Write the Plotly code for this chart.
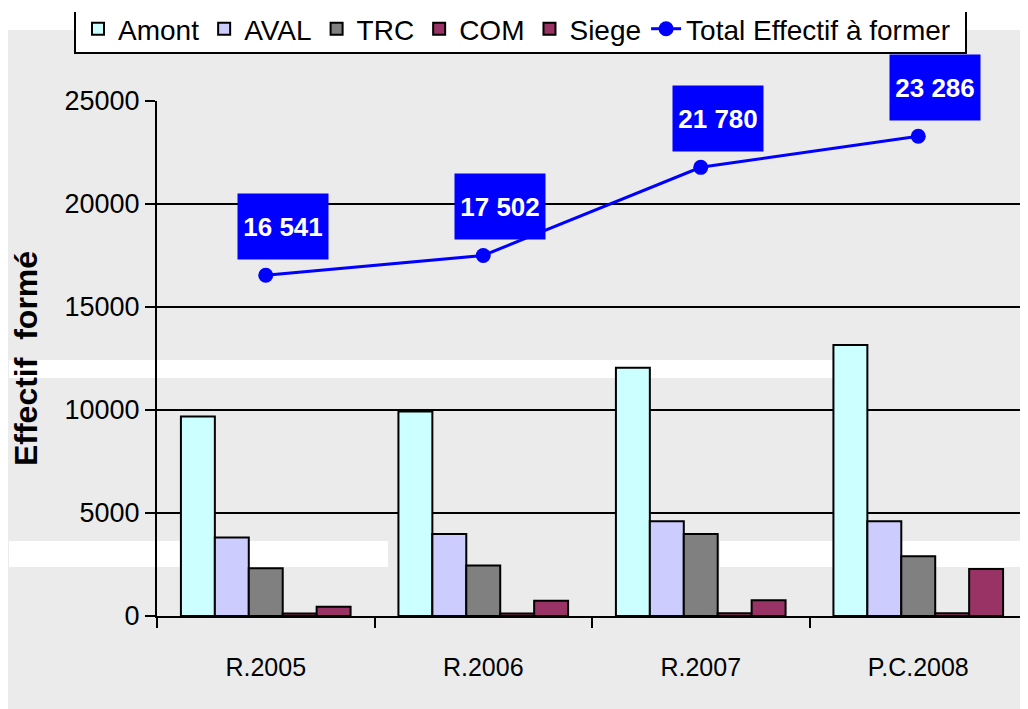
import plotly.graph_objects as go

categories = ["R.2005", "R.2006", "R.2007", "P.C.2008"]
amont = [9680, 9930, 12050, 13150]
aval = [3810, 3975, 4600, 4600]
trc = [2315, 2450, 3980, 2905]
com = [120, 120, 130, 130]
siege = [445, 740, 770, 2285]
total = [16541, 17502, 21780, 23286]

# the page body adds an 8px margin, so the figure is 8px smaller
OFF = 8
W, H = 1028 - OFF, 709 - OFF
L, R, T, B = 157 - OFF, 1, 101 - OFF, 93
PW, PH = W - L - R, H - T - B

def px(x):
    return (x - OFF - L) / PW

def py(y):
    return (H - B - (y - OFF)) / PH

FONT = "Liberation Sans, Arial, sans-serif"

fig = go.Figure()
bar_series = [
    ("Amont", amont, "#CCFFFF"),
    ("AVAL", aval, "#CCCCFF"),
    ("TRC", trc, "#808080"),
    ("COM", com, "#993366"),
    ("Siege", siege, "#993366"),
]
for name, vals, col in bar_series:
    fig.add_trace(go.Bar(
        name=name, x=categories, y=vals,
        marker=dict(color=col, line=dict(color="#000000", width=2)),
    ))

fig.add_trace(go.Scatter(
    name="Total Effectif à former", x=categories, y=total,
    mode="lines+markers",
    line=dict(color="#0000FF", width=3),
    marker=dict(color="#0000FF", size=15, symbol="circle"),
))

for c, v in zip(categories, total):
    fig.add_annotation(
        x=c, y=v, text="<b>" + f"{v:,}".replace(",", " ") + "</b>",
        showarrow=False, xshift=17, yshift=49,
        width=88, height=63, bgcolor="#0000FF",
        font=dict(family=FONT, size=26, color="#FFFFFF"),
        align="center", valign="middle",
    )

shapes = [
    # white top strip of the scanned page
    dict(type="rect", xref="paper", yref="paper", x0=px(0), x1=px(1028), y0=py(30), y1=py(0),
         fillcolor="#FFFFFF", line=dict(width=0), layer="below"),
    # light scan bands
    dict(type="rect", xref="paper", yref="paper", x0=px(9), x1=px(846), y0=py(378), y1=py(360),
         fillcolor="#FFFFFF", line=dict(width=0), layer="below"),
    dict(type="rect", xref="paper", yref="paper", x0=px(9), x1=px(388), y0=py(567), y1=py(541),
         fillcolor="#FFFFFF", line=dict(width=0), layer="below"),
    dict(type="rect", xref="paper", yref="paper", x0=px(720), x1=px(1028), y0=py(567), y1=py(541),
         fillcolor="#FFFFFF", line=dict(width=0), layer="below"),
    # legend box
    dict(type="rect", xref="paper", yref="paper", x0=px(75), x1=px(966), y0=py(53), y1=py(0),
         fillcolor="#FFFFFF", line=dict(width=0), layer="below"),
    dict(type="path", xref="paper", yref="paper",
         path=f"M {px(75)},{py(12)} L {px(75)},{py(53)} L {px(966)},{py(53)} L {px(966)},{py(12)}",
         line=dict(color="#000000", width=2), layer="above"),
]

fig.update_layout(
    width=W, height=H,
    margin=dict(l=L, r=R, t=T, b=B, pad=0, autoexpand=False),
    paper_bgcolor="#EBEBEB",
    plot_bgcolor="rgba(0,0,0,0)",
    barmode="group", bargap=0.22, bargroupgap=0,
    font=dict(family=FONT, size=24, color="#000000"),
    showlegend=True,
    legend=dict(
        orientation="h", x=px(78), y=py(29), xanchor="left", yanchor="middle",
        bgcolor="rgba(0,0,0,0)", borderwidth=0,
        font=dict(family=FONT, size=28, color="#000000"),
        itemwidth=30, tracegroupgap=0,
    ),
    shapes=shapes,
    xaxis=dict(
        type="category", range=[-0.5, 3.5],
        showline=True, linecolor="#000000", linewidth=2,
        ticks="outside", tickson="boundaries", ticklen=10, tickwidth=2, tickcolor="#000000",
        showgrid=False, ticklabelstandoff=28,
        tickfont=dict(family=FONT, size=25, color="#000000"),
    ),
    yaxis=dict(
        range=[0, 25000], dtick=5000, tickformat="d",
        showline=True, linecolor="#000000", linewidth=2,
        ticks="outside", ticklen=10, tickwidth=2, tickcolor="#000000",
        showgrid=True, gridcolor="#000000", gridwidth=2,
        zeroline=False,
        tickfont=dict(family=FONT, size=27, color="#000000"),
        title=dict(text="<b>Effectif  formé</b>", standoff=20,
                   font=dict(family=FONT, size=32, color="#000000")),
    ),
)

fig.write_html("out.html")
